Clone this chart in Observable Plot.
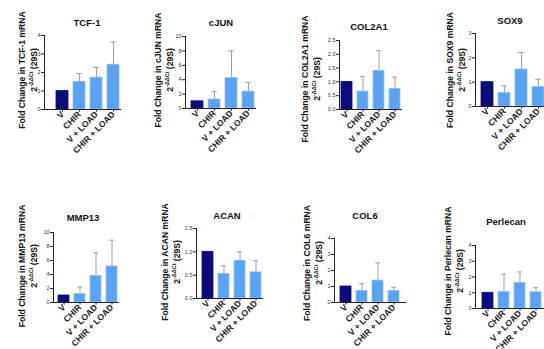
<!DOCTYPE html>
<html><head><meta charset="utf-8">
<script src="https://cdn.jsdelivr.net/npm/d3@7"></script>
<script src="https://cdn.jsdelivr.net/npm/@observablehq/plot@0.6"></script>
<style>
body{margin:0;background:#fff;}
#wrap{position:relative;width:544px;height:349px;overflow:hidden;background:#fff;}
#wrap svg{position:absolute;overflow:visible;background:transparent;max-width:none;font-family:"Liberation Sans",Arial,sans-serif !important;}
#wrap svg g[aria-label="x-axis tick label"] text{font-size:8.6px !important;font-weight:bold !important;fill:#1a1a1a;}
#wrap svg g[aria-label="y-axis tick label"] text{font-size:5.5px !important;fill:#333;}
#wrap svg text.ttl{font-size:9.5px !important;font-weight:bold !important;fill:#111;}
#wrap svg text.ylab{font-size:8.6px !important;font-weight:bold !important;fill:#111;}
#wrap svg text.ylab tspan.sup{font-size:5.5px !important;}
</style></head><body><div id="wrap"></div>
<script>
const categories = ["V", "CHIR", "V + LOAD", "CHIR + LOAD"];
const genes = ["TCF-1", "cJUN", "COL2A1", "SOX9", "MMP13", "ACAN", "COL6", "Perlecan"];
const means = [
  [1.0, 1.5, 1.72, 2.42],
  [1.0, 1.25, 4.25, 2.35],
  [1.0, 0.65, 1.4, 0.75],
  [1.0, 0.55, 1.52, 0.8],
  [1.0, 1.2, 3.8, 5.15],
  [1.0, 0.53, 0.81, 0.56],
  [1.0, 0.72, 1.37, 0.72],
  [1.0, 1.05, 1.62, 1.03]
];
const errTops = [
  [null, 1.95, 2.27, 3.65],
  [null, 2.35, 8.0, 3.6],
  [null, 1.2, 2.13, 1.17],
  [null, 0.85, 2.22, 1.12],
  [null, 2.2, 7.1, 8.9],
  [null, 0.7, 1.0, 0.81],
  [null, 1.18, 2.48, 0.95],
  [null, 2.18, 2.32, 1.32]
];
const yMaxes = [4, 10, 2.5, 3, 10, 1.5, 4, 4];
const tickSteps = [1, 2, 0.5, 1, 2, 0.5, 1, 1];
const tickDecimals = [0, 0, 1, 0, 0, 1, 0, 0];

// layout (absolute page pixels)
const layout = [
  {L:0,   T:0,   ax:44,  yTop:35,  y0:109, end:120, b0:55,  s:17.3, tx:87,  ty:23,  lx:22,  ly:70},
  {L:136, T:0,   ax:185, yTop:36,  y0:108, end:255, b0:191, s:17.0, tx:221, ty:23,  lx:158, ly:70},
  {L:272, T:0,   ax:339, yTop:40,  y0:109, end:401, b0:340, s:16.6, tx:369, ty:27,  lx:305, ly:79},
  {L:408, T:0,   ax:475, yTop:33,  y0:106, end:548, b0:481, s:17.0, tx:510, ty:21,  lx:450, ly:70},
  {L:0,   T:175, ax:53,  yTop:232, y0:302, end:118, b0:57,  s:16.4, tx:83,  ty:218, lx:22,  ly:266},
  {L:136, T:175, ax:196, yTop:228, y0:298, end:262, b0:202, s:16.2, tx:227, ty:216, lx:165, ly:262},
  {L:272, T:175, ax:334, yTop:238, y0:302, end:405, b0:339, s:16.7, tx:365, ty:216, lx:307, ly:263},
  {L:408, T:175, ax:475, yTop:245, y0:308, end:548, b0:481, s:16.7, tx:506, ty:222, lx:448, ly:271}
];

const navy = "#0b0b7d", blue = "#5aa2f4", blueEdge = "#8cc0fa";
const wrap = document.getElementById("wrap");

genes.forEach((gene, gi) => {
  const g = layout[gi];
  const W = 136, H = 175;
  const data = categories.map((c, i) => ({cat: c, v: means[gi][i], e: errTops[gi][i]}));
  const errData = data.filter(d => d.e != null);
  const r0 = g.b0 - 0.3 * g.s - g.L;
  const r1 = r0 + 4.3 * g.s;
  const bw = 0.7 * g.s;
  const ticks = d3.range(0, yMaxes[gi] + 1e-9, tickSteps[gi]);
  const fmt = d3.format("." + tickDecimals[gi] + "f");
  const svg = Plot.plot({
    width: W, height: H,
    marginLeft: g.ax - g.L,
    marginRight: g.L + W - g.end,
    marginTop: g.yTop - g.T,
    marginBottom: g.T + H - g.y0,
    style: {background: "transparent", overflow: "visible"},
    x: {type: "band", domain: categories, range: [r0, r1], padding: 0.3},
    y: {domain: [0, yMaxes[gi]]},
    marks: [
      Plot.ruleX(errData, {x: "cat", y1: "v", y2: "e", stroke: "#a0a0a0", strokeWidth: 1}),
      Plot.tickY(errData, {x: "cat", y: "e", stroke: "#a0a0a0", strokeWidth: 1, insetLeft: bw * 0.27, insetRight: bw * 0.27}),
      Plot.barY(data, {x: "cat", y: "v", fill: d => d.cat === "V" ? navy : blue,
        stroke: d => d.cat === "V" ? navy : blueEdge, strokeWidth: 0.8}),
      Plot.axisY({ticks: ticks, tickFormat: fmt, tickSize: 3, tickPadding: 1, fontSize: 5.5, label: null, stroke: "#222"}),
      Plot.axisX({tickSize: 2.5, tickRotate: -45, tickPadding: 1, fontSize: 8.6, label: null}),
      Plot.frame({anchor: "left", stroke: "#222", strokeWidth: 1}),
      Plot.frame({anchor: "bottom", stroke: "#222", strokeWidth: 1})
    ]
  });
  svg.style.left = g.L + "px";
  svg.style.top = g.T + "px";
  const s = d3.select(svg);
  // title
  s.append("text").attr("class", "ttl")
    .attr("x", g.tx - g.L).attr("y", g.ty - g.T)
    .attr("text-anchor", "middle").attr("dy", "0.35em")
    .text(gene);
  // y label, two lines
  const lab = s.append("text").attr("class", "ylab")
    .attr("transform", `translate(${g.lx - g.L},${g.ly - g.T}) rotate(-90)`)
    .attr("text-anchor", "middle");
  lab.append("tspan").attr("x", 0).attr("dy", "0.35em").text(`Fold Change in ${gene} mRNA`);
  lab.append("tspan").attr("x", 0).attr("dy", "1.35em").text("2");
  lab.append("tspan").attr("class", "sup").attr("dy", "-0.6em").text("-\u0394\u0394Ct");
  lab.append("tspan").attr("dy", "0.38em").text(" (29S)");
  wrap.appendChild(svg);
});
</script></body></html>
